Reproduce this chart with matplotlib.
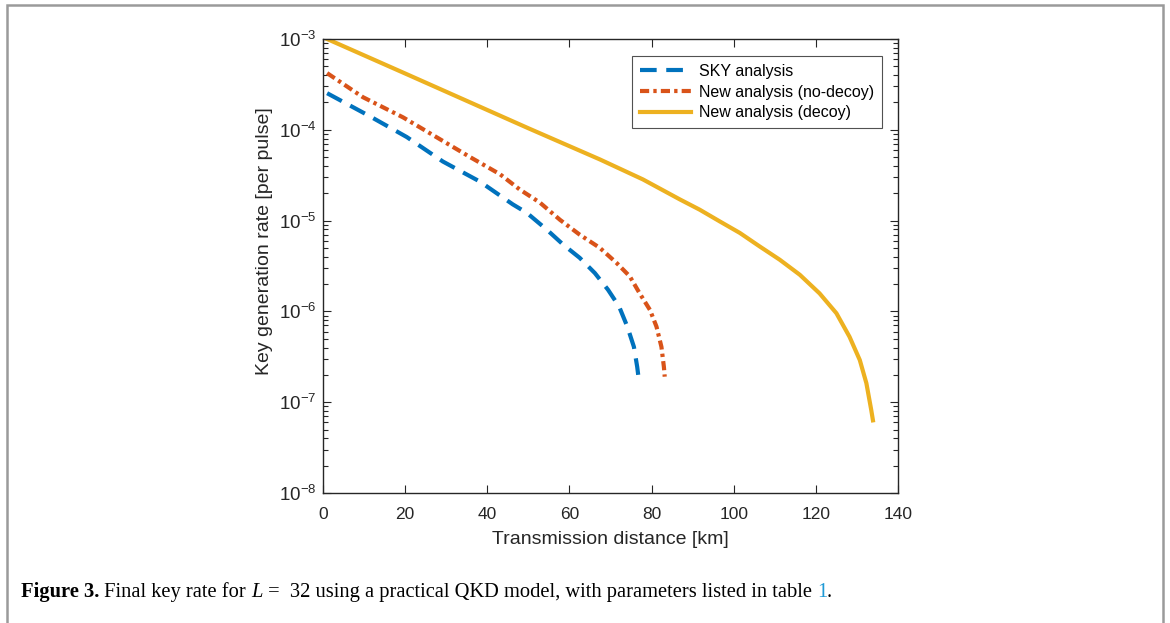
import math
import matplotlib
matplotlib.use("Agg")
import matplotlib.pyplot as plt
from matplotlib.patches import Rectangle
from matplotlib.ticker import LogLocator, FuncFormatter

plt.rcParams['font.family'] = ['Liberation Sans', 'DejaVu Sans']
plt.rcParams['mathtext.fontset'] = 'custom'
plt.rcParams['mathtext.rm'] = 'Liberation Sans'
plt.rcParams['mathtext.it'] = 'Liberation Sans:italic'

# ---- data ----
sky_km = [1, 11.4, 20.4, 29.2, 38.2, 46.2, 49.6, 54.5, 58.5, 62.5, 66.2, 69.4, 72.1,
          74.1, 75.7, 76.5, 77.0]
sky_rate = [2.53e-4, 1.41e-4, 8.32e-5, 4.47e-5, 2.69e-5, 1.51e-5, 1.22e-5, 7.94e-6,
            5.43e-6, 3.89e-6, 2.64e-6, 1.73e-6, 1.13e-6, 6.79e-7, 4.07e-7, 2.45e-7, 1.62e-7]

nodecoy_km = [1, 9.7, 19.5, 27.7, 35.8, 43.1, 47.9, 52.8, 57.7, 62.5, 67.4, 71.5, 74.7,
              77.1, 79.6, 81.2, 82.4, 83.0, 83.2]
nodecoy_rate = [4.21e-4, 2.29e-4, 1.37e-4, 8.26e-5, 5.01e-5, 3.24e-5, 2.20e-5, 1.58e-5,
                1.02e-5, 7.0e-6, 5.01e-6, 3.41e-6, 2.43e-6, 1.58e-6, 1.04e-6, 6.79e-7,
                4.07e-7, 2.45e-7, 1.91e-7]

decoy_km = [1, 20, 50, 67.4, 77.9, 86.9, 91.7, 96.6, 101.5, 106.3, 111.2, 116.1, 120.9,
            125, 128.2, 130.7, 132.3, 133.5, 133.9]
decoy_rate = [1.0e-3, 4.17e-4, 1.04e-4, 4.72e-5, 2.84e-5, 1.71e-5, 1.32e-5, 9.8e-6,
              7.31e-6, 5.20e-6, 3.71e-6, 2.53e-6, 1.58e-6, 9.55e-7, 5.25e-7, 2.91e-7,
              1.62e-7, 8.13e-8, 6.31e-8]

labels = ['SKY analysis', 'New analysis (no-decoy)', 'New analysis (decoy)']
x_ticks = [0, 20, 40, 60, 80, 100, 120, 140]

W, H = 1170, 623
fig = plt.figure(figsize=(W / 100, H / 100), dpi=100)

# outer frame
fig.patches.append(Rectangle((7 / W, -0.05), (1163 - 7) / W, 1.05 - 5 / H,
                             transform=fig.transFigure, fill=False,
                             edgecolor='#9a9a9a', linewidth=1.8))

ax = fig.add_axes([323 / W, 1 - 493 / H, (898 - 323) / W, (493 - 39) / H])

ax.plot(sky_km, sky_rate, color='#0072BD', lw=3, dashes=[4.0, 2.3], label=labels[0])
ax.plot(nodecoy_km, nodecoy_rate, color='#D95319', lw=3, dashes=[2.2, 1.0, 0.8, 1.0], label=labels[1])
ax.plot(decoy_km, decoy_rate, color='#EDB120', lw=3, label=labels[2])

ax.set_yscale('log')
ax.set_xlim(0, 140)
ax.set_ylim(1e-8, 1e-3)
ax.set_xticks(x_ticks)
ax.yaxis.set_major_locator(LogLocator(base=10, numticks=10))
ax.yaxis.set_minor_locator(LogLocator(base=10, subs=range(2, 10), numticks=20))
ax.yaxis.set_major_formatter(FuncFormatter(lambda v, p: r'$\mathregular{10^{%d}}$' % round(math.log10(v))))

axc = '#262626'
for s in ax.spines.values():
    s.set_color(axc)
    s.set_linewidth(1.0)
ax.tick_params(which='both', direction='in', top=True, right=True, colors=axc, labelcolor=axc)
ax.tick_params(which='major', length=6, width=0.8)
ax.tick_params(which='minor', length=3.5, width=0.8)
ax.tick_params(axis='x', which='major', labelsize=12.5, pad=10)
ax.tick_params(axis='y', which='major', labelsize=13.5, pad=4.5)
ax.tick_params(axis='x', which='minor', top=False, bottom=False)

ax.set_xlabel('Transmission distance [km]', fontsize=14, color=axc)
ax.set_ylabel('Key generation rate [per pulse]', fontsize=14, color=axc)
ax.xaxis.set_label_coords(0.5, -0.1035)
ax.xaxis.label.set_va('center')
ax.yaxis.set_label_coords(-0.1009, 0.555)
ax.yaxis.label.set_va('center')

leg = ax.legend(loc='upper right', bbox_to_anchor=(882 / W, 1 - 56 / H), bbox_transform=fig.transFigure,
                borderaxespad=0, fontsize=11.5, frameon=True, fancybox=False, edgecolor=axc,
                handlelength=3.2, borderpad=0.5, labelspacing=0.35, handletextpad=0.5)
leg.get_frame().set_linewidth(0.8)

# caption
fig.canvas.draw()
r = fig.canvas.get_renderer()
xpos = 21 / W
ycap = 1 - 597 / H
parts = [("Figure 3.", 'bold', 'black'),
         (" Final key rate for ", 'normal', 'black'),
         ("L", 'italic', 'black'),
         (" =  32 using a practical QKD model, with parameters listed in table ", 'normal', 'black'),
         ("1", 'normal', '#1f9ad6'),
         (".", 'normal', 'black')]
for txt, style, col in parts:
    kw = dict(fontsize=14.8, family='Liberation Serif', color=col, va='baseline', ha='left')
    if style == 'bold':
        kw['fontweight'] = 'bold'
    elif style == 'italic':
        kw['fontstyle'] = 'italic'
    t = fig.text(xpos, ycap, txt, **kw)
    bb = t.get_window_extent(renderer=r)
    xpos += bb.width / W

fig.savefig('out.png', dpi=100)
